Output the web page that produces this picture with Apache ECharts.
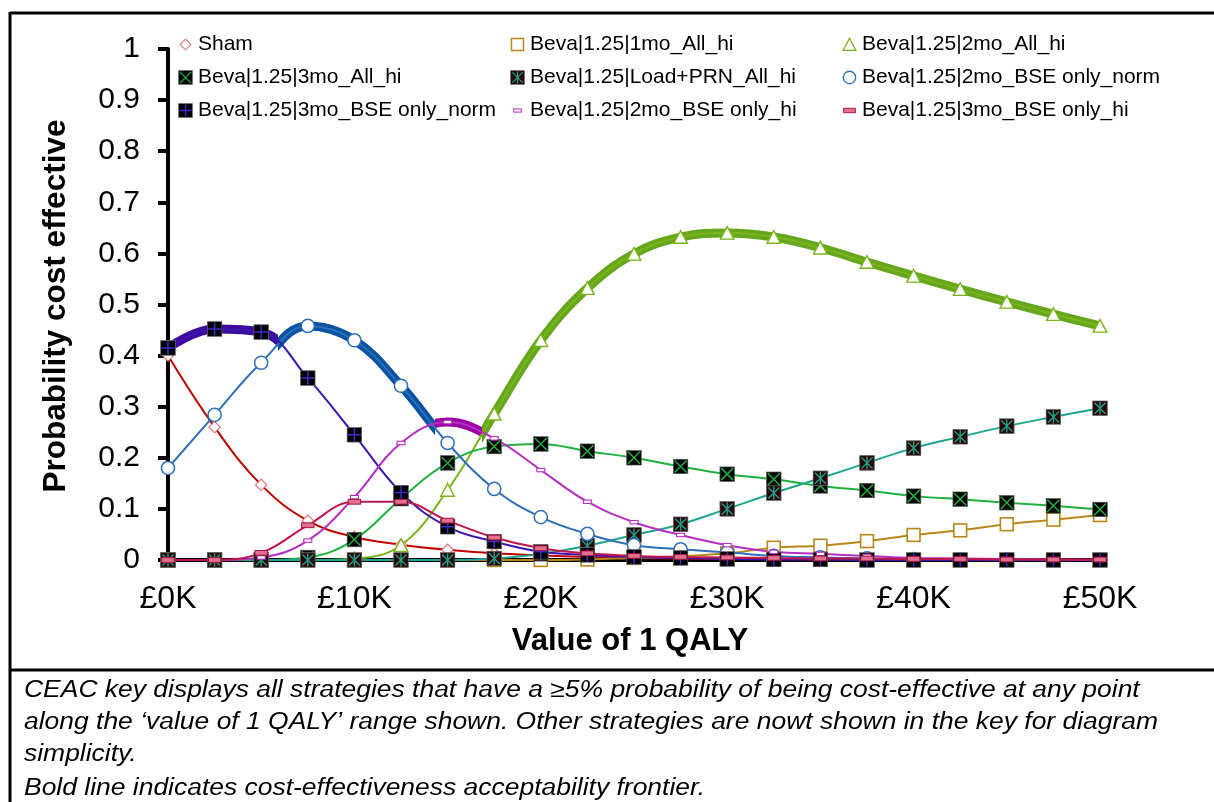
<!DOCTYPE html>
<html>
<head>
<meta charset="utf-8">
<script src="https://cdn.jsdelivr.net/npm/echarts@6/dist/echarts.min.js"></script>
<style>
  html, body { margin: 0; padding: 0; background: #fff; }
  #chart { width: 1214px; height: 802px; }
</style>
</head>
<body>
<div id="chart"></div>
<script>
// Willingness-to-pay thresholds (£ per QALY)
const qalyValues = [0, 2500, 5000, 7500, 10000, 12500, 15000, 17500, 20000, 22500, 25000,
  27500, 30000, 32500, 35000, 37500, 40000, 42500, 45000, 47500, 50000];
const xTickLabels = ['£0K', '£10K', '£20K', '£30K', '£40K', '£50K'];

// Probability of each strategy being cost effective at every threshold
const sham = [0.40, 0.26, 0.147, 0.077, 0.045, 0.03, 0.02, 0.013, 0.009, 0.006, 0.004,
  0.003, 0.002, 0.002, 0.001, 0.001, 0.001, 0, 0, 0, 0];
const oneMoAllHi = [0, 0, 0, 0, 0, 0, 0, 0, 0, 0.001, 0.004,
  0.007, 0.013, 0.024, 0.028, 0.037, 0.049, 0.058, 0.07, 0.079, 0.088];
const twoMoAllHi = [0, 0, 0, 0, 0.003, 0.029, 0.137, 0.286, 0.43, 0.532, 0.599,
  0.632, 0.64, 0.632, 0.611, 0.583, 0.556, 0.53, 0.505, 0.481, 0.458];
const threeMoAllHi = [0, 0, 0, 0.005, 0.04, 0.12, 0.19, 0.222, 0.227, 0.213, 0.2,
  0.183, 0.168, 0.158, 0.145, 0.136, 0.125, 0.119, 0.112, 0.106, 0.099];
const loadPrnAllHi = [0, 0, 0, 0, 0, 0, 0, 0.003, 0.012, 0.028, 0.049,
  0.07, 0.1, 0.131, 0.16, 0.19, 0.219, 0.241, 0.262, 0.28, 0.297];
const twoMoBseNorm = [0.18, 0.284, 0.386, 0.458, 0.43, 0.341, 0.229, 0.139, 0.084, 0.051, 0.029,
  0.021, 0.015, 0.008, 0.005, 0.003, 0.002, 0.001, 0.001, 0, 0];
const threeMoBseNorm = [0.415, 0.452, 0.446, 0.356, 0.245, 0.132, 0.065, 0.036, 0.016, 0.01, 0.006,
  0.004, 0.002, 0.001, 0.001, 0, 0, 0, 0, 0, 0];
const twoMoBseHi = [0, 0, 0.005, 0.038, 0.123, 0.229, 0.27, 0.238, 0.176, 0.114, 0.074,
  0.049, 0.029, 0.016, 0.012, 0.008, 0.004, 0.003, 0.002, 0.001, 0];
const threeMoBseHi = [0, 0, 0.014, 0.068, 0.114, 0.114, 0.077, 0.044, 0.023, 0.013, 0.008,
  0.006, 0.005, 0.004, 0.003, 0.003, 0.002, 0.002, 0.001, 0.001, 0.001];

const FONT = '"Liberation Sans", Arial, sans-serif';

// Marker glyphs drawn as small inline SVG images (16x16 box)
function svgIcon(body) {
  return 'image://data:image/svg+xml;charset=utf-8,' + encodeURIComponent(
    '<svg xmlns="http://www.w3.org/2000/svg" width="32" height="32" viewBox="0 0 16 16">' + body + '</svg>');
}
const darkSquare = (fill) => '<rect x="0.7" y="0.7" width="14.6" height="14.6" fill="' + fill + '" stroke="#666" stroke-width="0.8"/>';
const markers = {
  diamond: svgIcon('<path d="M8 2.3L13.7 8L8 13.7L2.3 8Z" fill="#fff" stroke="#e26a6a" stroke-width="1.1"/>'),
  goldSquare: svgIcon('<rect x="1.6" y="1.6" width="12.8" height="12.8" fill="#fff" stroke="#b8861b" stroke-width="1.6"/>'),
  triangle: svgIcon('<path d="M8 1.6L14.8 14.2L1.2 14.2Z" fill="#fff" stroke="#78b41c" stroke-width="1.4"/>'),
  crossSquare: svgIcon(darkSquare('#000') + '<path d="M2 2L14 14M14 2L2 14" stroke="#1fae3c" stroke-width="1.5"/>'),
  starSquare: svgIcon(darkSquare('#2a0606') + '<path d="M2.5 2.5L13.5 13.5M13.5 2.5L2.5 13.5M8 1.5L8 14.5" stroke="#1a9f8c" stroke-width="1.4"/>'),
  circle: svgIcon('<circle cx="8" cy="8" r="6.6" fill="#fff" stroke="#2e6fb8" stroke-width="1.5"/>'),
  plusSquare: svgIcon(darkSquare('#000') + '<path d="M8 1.5L8 14.5M1.5 8L14.5 8" stroke="#3a2ccf" stroke-width="1.5"/>'),
  smallDash: svgIcon('<rect x="4" y="6.3" width="8" height="3.4" fill="#fff" stroke="#b52fc2" stroke-width="1.1"/>'),
  wideDash: svgIcon('<rect x="1.8" y="5.6" width="12.4" height="4.8" fill="#e0708e" stroke="#a3123f" stroke-width="1"/>')
};

// Strategies in key order; frontier colour is used for the bold acceptability frontier
const strategies = [
  { name: 'Sham', data: sham, color: '#c00000', marker: markers.diamond, frontier: '#c00000' },
  { name: 'Beva|1.25|1mo_All_hi', data: oneMoAllHi, color: '#b8861b', marker: markers.goldSquare, frontier: '#b8861b' },
  { name: 'Beva|1.25|2mo_All_hi', data: twoMoAllHi, color: '#7ab51d', marker: markers.triangle, frontier: '#66a61c' },
  { name: 'Beva|1.25|3mo_All_hi', data: threeMoAllHi, color: '#1fb03e', marker: markers.crossSquare, frontier: '#1fb03e' },
  { name: 'Beva|1.25|Load+PRN_All_hi', data: loadPrnAllHi, color: '#1ea590', marker: markers.starSquare, frontier: '#1ea590' },
  { name: 'Beva|1.25|2mo_BSE only_norm', data: twoMoBseNorm, color: '#2e6fb8', marker: markers.circle, frontier: '#0652a3' },
  { name: 'Beva|1.25|3mo_BSE only_norm', data: threeMoBseNorm, color: '#3d14b0', marker: markers.plusSquare, frontier: '#3c0c9e' },
  { name: 'Beva|1.25|2mo_BSE only_hi', data: twoMoBseHi, color: '#b52fc2', marker: markers.smallDash, frontier: '#9c00a2' },
  { name: 'Beva|1.25|3mo_BSE only_hi', data: threeMoBseHi, color: '#c0174a', marker: markers.wideDash, frontier: '#c0174a' }
];

// Acceptability frontier: strategy with highest probability, switching where curves cross
function frontierSegments() {
  const argmax = (i) => {
    let best = 0;
    strategies.forEach((s, k) => { if (s.data[i] > strategies[best].data[i]) best = k; });
    return best;
  };
  const segs = [];
  let cur = argmax(0), start = qalyValues[0];
  for (let i = 1; i < qalyValues.length; i++) {
    const m = argmax(i);
    if (m !== cur) {
      const a = strategies[cur].data, b = strategies[m].data;
      const d0 = a[i - 1] - b[i - 1], d1 = a[i] - b[i];
      const t = d0 / (d0 - d1);
      const xc = qalyValues[i - 1] + t * (qalyValues[i] - qalyValues[i - 1]);
      segs.push({ k: cur, from: start, to: xc });
      cur = m; start = xc;
    }
  }
  segs.push({ k: cur, from: start, to: qalyValues[qalyValues.length - 1] });
  return segs;
}
const segments = frontierSegments();
const frontierKeys = [...new Set(segments.map(s => s.k))];

const pairs = (arr) => qalyValues.map((x, i) => [x, arr[i]]);

const thickSeries = frontierKeys.map(k => ({
  id: 'frontier-' + k,
  type: 'line',
  data: pairs(strategies[k].data),
  smooth: 0.4,
  symbol: 'none',
  silent: true,
  z: 1,
  lineStyle: { width: 9, color: 'rgba(0,0,0,0)', cap: 'round' }
}));

const lineSeries = strategies.map(s => ({
  name: s.name,
  type: 'line',
  data: pairs(s.data),
  smooth: 0.4,
  symbol: s.marker,
  symbolSize: 16,
  z: 2,
  lineStyle: { width: 2, color: s.color },
  itemStyle: { color: s.color },
  emphasis: { disabled: true }
}));

const legendColumns = [
  [0, 3, 6],
  [1, 4, 7],
  [2, 5, 8]
];
const legendLeft = [173, 505, 837];

// Footer note lines (italic, slightly widened)
const noteLines = [
  { text: 'CEAC key displays all strategies that have a \u22655% probability of being cost-effective at any point', y: 691 },
  { text: 'along the \u2018value of 1 QALY\u2019 range shown. Other strategies are nowt shown in the key for diagram', y: 723 },
  { text: 'simplicity.', y: 755 },
  { text: 'Bold line indicates cost-effectiveness acceptability frontier.', y: 789 }
];

const chart = echarts.init(document.getElementById('chart'), null, { renderer: 'canvas' });

const option = {
  animation: false,
  backgroundColor: '#fff',
  grid: { left: 168, right: 114, top: 49, bottom: 242 },
  legend: legendColumns.map((col, c) => ({
    orient: 'vertical',
    left: legendLeft[c],
    top: 29,
    itemGap: 12,
    itemWidth: 15,
    itemHeight: 15,
    selectedMode: false,
    textStyle: { fontSize: 21, color: '#000', fontFamily: FONT, lineHeight: 20 },
    data: col.map(k => ({ name: strategies[k].name, icon: strategies[k].marker }))
  })),
  xAxis: {
    type: 'value',
    min: 0,
    max: 50000,
    interval: 10000,
    splitLine: { show: false },
    axisLine: { lineStyle: { color: '#000', width: 4 } },
    axisTick: { length: 6, lineStyle: { color: '#000', width: 3 } },
    axisLabel: {
      fontSize: 32, color: '#000', fontFamily: FONT, margin: 23,
      formatter: (v) => xTickLabels[Math.round(v / 10000)]
    }
  },
  yAxis: {
    type: 'value',
    min: 0,
    max: 1,
    interval: 0.1,
    splitLine: { show: false },
    axisLine: { show: true, lineStyle: { color: '#000', width: 4 } },
    axisTick: { show: true, length: 10, lineStyle: { color: '#000', width: 4 } },
    axisLabel: { fontSize: 30, color: '#000', fontFamily: FONT, margin: 28 }
  },
  graphic: [
    { type: 'line', shape: { x1: 10, y1: 13, x2: 1214, y2: 13 }, style: { stroke: '#000', lineWidth: 3 } },
    { type: 'line', shape: { x1: 10, y1: 12, x2: 10, y2: 802 }, style: { stroke: '#000', lineWidth: 3 } },
    { type: 'line', shape: { x1: 10, y1: 670, x2: 1214, y2: 670 }, style: { stroke: '#000', lineWidth: 3 } },
    {
      type: 'text', x: 56, y: 306, rotation: Math.PI / 2,
      style: { text: 'Probability cost effective', fontSize: 31.5, fontWeight: 'bold', fontFamily: FONT,
        fill: '#000', align: 'center', verticalAlign: 'middle' }
    },
    {
      type: 'text', x: 630, y: 641,
      style: { text: 'Value of 1 QALY', fontSize: 31, fontWeight: 'bold', fontFamily: FONT,
        fill: '#000', align: 'center', verticalAlign: 'middle' }
    }
  ].concat(noteLines.map(l => ({
    type: 'text', x: 24, y: l.y, scaleX: 1.15,
    style: { text: l.text, fontSize: 23, fontStyle: 'italic', fontFamily: FONT, fill: '#000', verticalAlign: 'middle' }
  }))),
  series: thickSeries.concat(lineSeries)
};

chart.setOption(option);

// Colour each bold frontier line only over the thresholds where its strategy leads
const px0 = chart.convertToPixel({ xAxisIndex: 0 }, qalyValues[0]);
const px1 = chart.convertToPixel({ xAxisIndex: 0 }, qalyValues[qalyValues.length - 1]);
const span = qalyValues[qalyValues.length - 1] - qalyValues[0];
const clear = 'rgba(0,0,0,0)';
chart.setOption({
  series: frontierKeys.map(k => {
    const col = strategies[k].frontier;
    const stops = [{ offset: 0, color: clear }];
    segments.filter(s => s.k === k).forEach(s => {
      const a = (s.from - qalyValues[0]) / span, b = (s.to - qalyValues[0]) / span;
      stops.push({ offset: a, color: clear }, { offset: a, color: col },
                 { offset: b, color: col }, { offset: b, color: clear });
    });
    stops.push({ offset: 1, color: clear });
    return {
      id: 'frontier-' + k,
      lineStyle: { color: { type: 'linear', x: px0, y: 0, x2: px1, y2: 0, global: true, colorStops: stops } }
    };
  })
});
</script>
</body>
</html>
